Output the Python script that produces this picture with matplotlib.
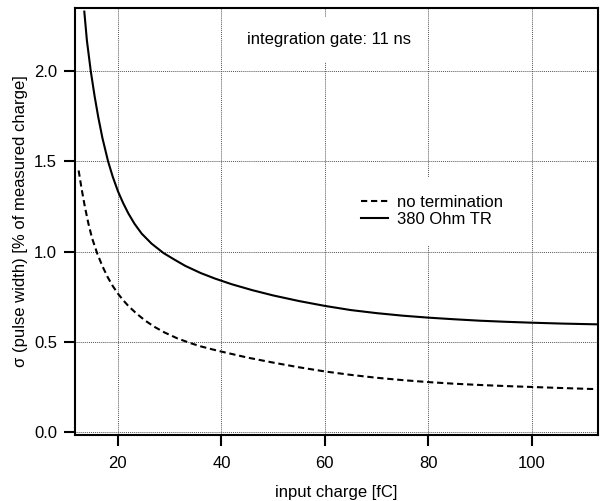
import matplotlib
matplotlib.use("Agg")
import matplotlib.pyplot as plt
from matplotlib.lines import Line2D

plt.rcParams['font.family'] = ['Liberation Sans', 'DejaVu Sans']

# data
x_tr = [13.5, 14.0, 14.75, 15.5, 16.2, 17.0, 18.1, 19.0, 20.0, 21.0, 22.0, 23.2,
        24.6, 26.5, 28.8, 31.0, 33.0, 36.0, 38.8, 42.0, 46.0, 50.0, 55.0, 60.0,
        65.0, 70.0, 75.0, 80.0, 85.0, 90.0, 95.0, 100.0, 106.0, 112.5]
y_tr = [2.33, 2.17, 2.00, 1.86, 1.745, 1.63, 1.50, 1.415, 1.335, 1.27, 1.213, 1.155,
        1.10, 1.045, 0.993, 0.955, 0.922, 0.882, 0.851, 0.82, 0.787, 0.758, 0.727, 0.700,
        0.677, 0.660, 0.646, 0.635, 0.626, 0.618, 0.612, 0.607, 0.602, 0.598]

x_nt = [12.4, 13.0, 13.6, 14.3, 15.0, 16.0, 17.0, 18.0, 19.0, 20.0, 21.0, 22.0,
        23.5, 25.2, 27.0, 29.0, 31.5, 34.0, 36.0, 38.0, 40.0, 45.0, 50.0, 55.0,
        60.0, 65.0, 70.0, 75.0, 80.0, 85.0, 90.0, 95.0, 100.0, 106.0, 112.5]
y_nt = [1.45, 1.345, 1.25, 1.155, 1.075, 0.99, 0.92, 0.86, 0.81, 0.768, 0.732, 0.700,
        0.66, 0.62, 0.585, 0.553, 0.52, 0.494, 0.476, 0.461, 0.447, 0.414, 0.386, 0.36,
        0.337, 0.318, 0.302, 0.289, 0.278, 0.269, 0.262, 0.256, 0.251, 0.245, 0.239]

x_ticks = [20, 40, 60, 80, 100]
y_ticks = [0.0, 0.5, 1.0, 1.5, 2.0]
y_ticklabels = ["0.0", "0.5", "1.0", "1.5", "2.0"]

labels = ["no termination", "380 Ohm TR"]
annotation = "integration gate: 11 ns"

fig = plt.figure(figsize=(6.02, 5.01), dpi=100)
ax = fig.add_axes([75/602, 1-435/501, 523/602, 427/501])

ax.set_xlim(11.7, 112.8)
ax.set_ylim(-0.015, 2.35)

ax.set_xticks(x_ticks)
ax.set_yticks(y_ticks)
ax.set_yticklabels(y_ticklabels)

ax.grid(True, color='#555555', linestyle=(0, (1, 1)), linewidth=0.7, zorder=0)
ax.set_axisbelow(True)

for s in ax.spines.values():
    s.set_linewidth(1.5)
ax.tick_params(axis='both', direction='out', length=8, width=1.5, labelsize=12,
               top=False, right=False)
ax.tick_params(axis='x', pad=7)
ax.tick_params(axis='y', pad=5)

ax.plot(x_nt, y_nt, color='black', linewidth=1.5,
        linestyle=(0, (3, 1.8)), zorder=3)
ax.plot(x_tr, y_tr, color='black', linewidth=1.5, zorder=3)

ax.set_xlabel("input charge [fC]", fontsize=12, labelpad=10)
ax.set_ylabel("σ (pulse width) [% of measured charge]", fontsize=12, labelpad=4)

ax.text(0.4866, 0.927, annotation, transform=ax.transAxes, fontsize=12,
        ha='center', va='center', zorder=4,
        bbox=dict(boxstyle='square,pad=0.9', facecolor='white', edgecolor='none'))

h1 = Line2D([], [], color='black', linewidth=1.5, linestyle=(0, (3, 1.8)))
h2 = Line2D([], [], color='black', linewidth=1.5)
leg = ax.legend([h1, h2], labels, loc='center', bbox_to_anchor=(0.683, 0.525),
                fontsize=12, frameon=True, facecolor='white', edgecolor='none',
                framealpha=1.0, fancybox=False, handlelength=1.6,
                handletextpad=0.55, labelspacing=0.1, borderpad=1.1)
leg.set_zorder(5)

fig.savefig("out.png", dpi=100)
